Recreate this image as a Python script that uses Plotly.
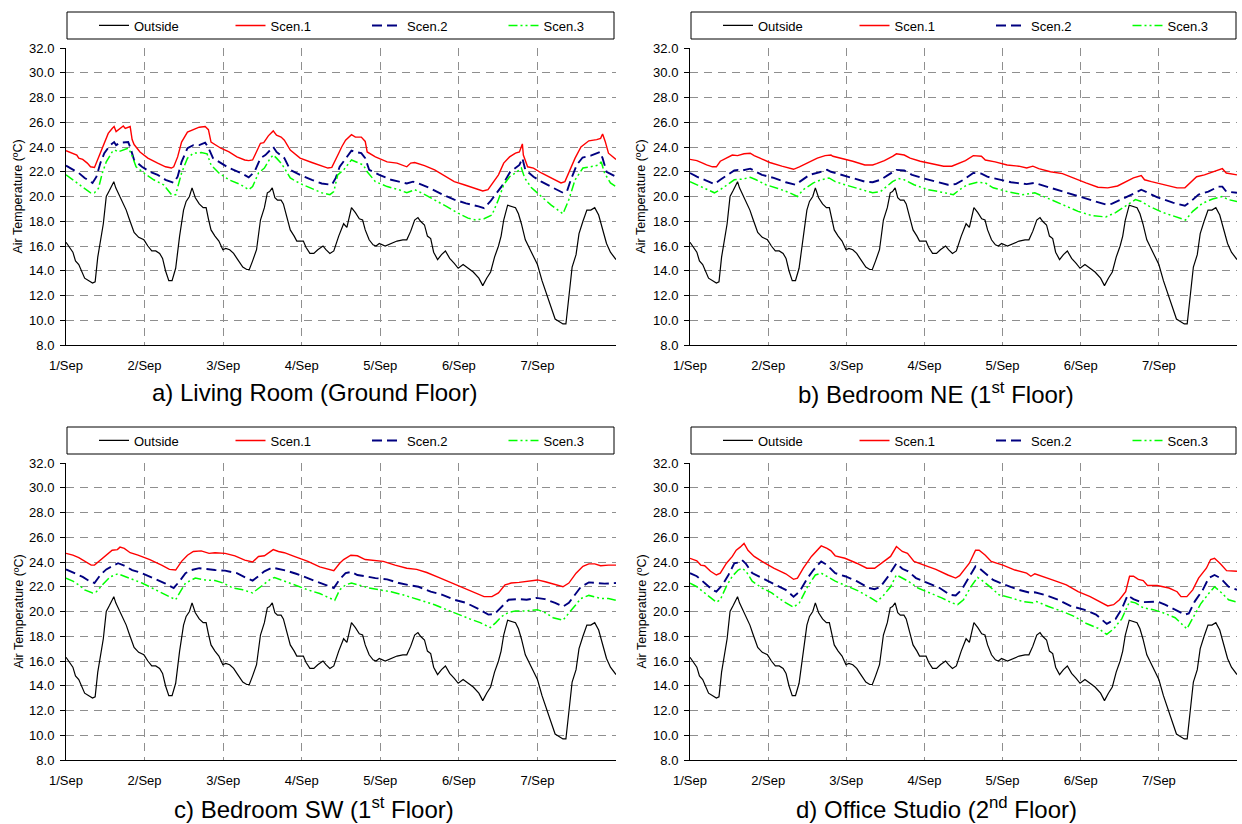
import plotly.graph_objects as go

W, H = 1242, 824
FONT = "Liberation Sans, Arial, sans-serif"

# ---------------- data (hours from 1/Sep 00:00, air temperature in degC) ----------------
DAY_TICKS = [0, 24, 48, 72, 96, 120, 144, 168]
DAY_LABELS = ["1/Sep", "2/Sep", "3/Sep", "4/Sep", "5/Sep", "6/Sep", "7/Sep", ""]
Y_TICKS = [8, 10, 12, 14, 16, 18, 20, 22, 24, 26, 28, 30, 32]
SERIES = ["Outside", "Scen.1", "Scen.2", "Scen.3"]

OUTSIDE = [
    (0, 16.3), (2.1, 15.5), (2.9, 14.8), (3.9, 14.5), (5.7, 13.4), (6.9, 13.2), (8.1, 13.0), (8.9, 13.1),
    (9.7, 15.1), (11.4, 17.8), (12.3, 20.0), (13.3, 20.5), (14.6, 21.2), (15.2, 20.7), (15.9, 20.3),
    (17.2, 19.6), (18.4, 18.9), (19.3, 18.2), (20.8, 17.1), (22.2, 16.7), (23.8, 16.5), (25.0, 16.0),
    (26.2, 15.6), (27.4, 15.6), (28.6, 15.4), (29.5, 15.0), (30.4, 14.0), (31.4, 13.2), (32.4, 13.2),
    (33.5, 14.2), (34.7, 16.8), (35.9, 18.9), (36.7, 19.6), (37.7, 20.0), (38.5, 20.7), (39.5, 19.9),
    (40.7, 19.4), (41.9, 19.1), (42.8, 19.1), (43.5, 18.2), (44.3, 17.3), (45.5, 16.8), (46.7, 16.4),
    (47.9, 15.7), (48.8, 15.8), (50.0, 15.7), (51.2, 15.4), (52.2, 15.0), (54.0, 14.3), (55.2, 14.1),
    (56.0, 14.1), (57.0, 14.8), (58.2, 15.7), (59.4, 18.1), (60.6, 19.1), (61.5, 20.3), (62.2, 20.4),
    (63.0, 20.7), (63.8, 19.9), (64.6, 19.7), (65.7, 19.7), (66.4, 19.4), (67.3, 18.4), (68.5, 17.3),
    (69.7, 16.8), (70.5, 16.4), (71.5, 16.4), (72.5, 16.4), (73.3, 15.9), (74.5, 15.4), (75.7, 15.4),
    (76.9, 15.7), (78.5, 16.0), (79.4, 15.7), (80.6, 15.4), (81.8, 15.6), (83.3, 16.8), (84.8, 17.8),
    (85.8, 17.5), (87.2, 19.1), (88.4, 18.7), (89.6, 18.2), (90.6, 18.1), (91.4, 17.3), (92.6, 16.5),
    (93.8, 16.1), (94.7, 16.0), (95.7, 16.2), (97.5, 16.0), (99.3, 16.2), (101.1, 16.4), (102.9, 16.5),
    (104.1, 16.5), (105.3, 17.2), (106.5, 18.1), (107.5, 18.3), (108.3, 18.0), (109.5, 17.7), (110.4, 16.8),
    (111.4, 16.6), (112.3, 15.5), (113.5, 14.9), (114.7, 15.3), (115.9, 15.6), (117.2, 15.0), (118.6, 14.6),
    (119.8, 14.2), (121.3, 14.5), (122.8, 14.2), (124.4, 13.9), (126.1, 13.4), (127.3, 12.8), (128.5, 13.4),
    (129.7, 13.9), (130.9, 15.1), (132.1, 16.0), (132.9, 16.8), (133.7, 18.1), (134.9, 19.3), (136.1, 19.2),
    (137.3, 19.1), (138.2, 18.6), (139.1, 17.8), (140.3, 16.5), (141.6, 15.8), (142.8, 15.1), (144.0, 14.5),
    (145.4, 13.2), (147.0, 11.9), (148.2, 11.1), (149.4, 10.1), (150.6, 9.9), (151.8, 9.7), (152.7, 9.7),
    (153.6, 11.9), (154.6, 14.3), (155.8, 15.3), (156.7, 17.0), (157.9, 18.0), (159.1, 18.9), (160.3, 18.9),
    (161.5, 19.1), (162.7, 18.5), (163.9, 17.3), (165.1, 16.2), (166.3, 15.5), (168.0, 14.9),
]

# a) Living Room (Ground Floor)
A_SCEN1 = [
    (0, 23.7), (2.1, 23.5), (3.3, 23.35), (3.9, 23.1), (5.1, 23.0), (6.5, 22.7), (7.5, 22.4), (8.7, 22.35),
    (10.5, 23.5), (11.7, 24.3), (12.9, 25.1), (14.1, 25.5), (14.7, 25.65), (15.3, 25.25), (16.5, 25.5),
    (17.5, 25.7), (18.1, 25.5), (19.0, 25.6), (19.6, 25.65), (20.2, 24.6), (20.8, 24.2), (22.6, 23.6),
    (25.0, 23.1), (28.0, 22.7), (30.4, 22.4), (32.2, 22.3), (32.9, 22.4), (34.1, 23.2), (35.3, 24.4),
    (37.1, 25.2), (38.9, 25.4), (40.7, 25.6), (42.5, 25.65), (43.5, 25.4), (44.3, 24.4), (45.5, 24.2),
    (47.3, 23.9), (49.8, 23.6), (52.2, 23.2), (54.6, 22.95), (55.8, 22.9), (57.0, 22.95), (58.2, 23.6),
    (59.4, 24.3), (60.4, 24.35), (61.8, 24.9), (63.3, 25.3), (64.3, 24.95), (65.7, 24.8), (66.7, 24.55),
    (68.5, 23.75), (71.5, 23.1), (75.1, 22.75), (77.5, 22.55), (80.0, 22.3), (81.2, 22.35), (82.4, 22.95),
    (83.3, 23.5), (84.2, 24.0), (85.4, 24.55), (87.2, 25.0), (88.4, 24.8), (90.2, 24.8), (91.4, 24.45),
    (92.0, 23.6), (94.5, 23.2), (98.1, 22.8), (101.1, 22.7), (104.1, 22.4), (105.3, 22.7), (106.5, 22.75),
    (109.5, 22.5), (112.6, 22.15), (116.2, 21.6), (118.6, 21.2), (121.6, 20.95), (124.6, 20.7),
    (127.3, 20.45), (128.9, 20.55), (130.7, 21.2), (132.1, 21.75), (133.7, 22.7), (135.5, 23.2),
    (137.3, 23.5), (138.5, 23.6), (139.4, 24.25), (139.7, 23.35), (141.0, 22.4), (142.8, 22.3),
    (145.2, 21.9), (148.2, 21.5), (151.2, 21.1), (152.4, 21.2), (153.6, 21.9), (155.5, 23.1), (157.3, 24.0),
    (159.7, 24.5), (162.1, 24.6), (163.3, 24.7), (163.9, 25.05), (164.7, 24.45), (165.7, 23.5), (168.0, 23.0),
]
A_SCEN2 = [
    (0, 22.5), (2.1, 22.15), (3.9, 21.9), (5.7, 21.5), (8.1, 21.1), (9.3, 21.6), (10.5, 22.7), (11.7, 23.5),
    (13.5, 24.15), (14.7, 24.4), (15.3, 24.15), (16.5, 24.35), (17.8, 24.4), (19.0, 24.4), (19.6, 24.0),
    (20.8, 22.95), (23.2, 22.4), (25.6, 22.0), (28.0, 21.75), (30.4, 21.35), (32.9, 21.1), (34.1, 21.6),
    (35.3, 22.8), (37.1, 23.9), (38.9, 24.15), (40.7, 24.15), (42.5, 24.35), (43.4, 24.0), (44.9, 23.1),
    (47.3, 22.7), (49.8, 22.3), (53.4, 21.9), (55.8, 21.55), (57.6, 22.0), (59.4, 23.1), (60.9, 23.35),
    (62.4, 23.75), (63.3, 24.0), (64.3, 23.6), (65.7, 23.35), (66.7, 23.1), (68.5, 22.15), (71.5, 21.75),
    (75.1, 21.35), (78.1, 21.05), (81.2, 20.95), (82.4, 21.5), (83.6, 22.4), (85.4, 23.1), (87.2, 23.7),
    (88.4, 23.6), (90.2, 23.5), (91.4, 23.1), (92.6, 22.15), (95.7, 21.75), (99.3, 21.35), (101.7, 21.2),
    (104.1, 21.05), (106.0, 21.2), (107.7, 21.05), (111.4, 20.65), (115.0, 20.15), (118.6, 19.75),
    (122.2, 19.45), (126.0, 19.2), (127.7, 19.05), (129.6, 19.6), (131.4, 20.25), (133.3, 20.9),
    (135.7, 22.0), (137.3, 22.3), (138.5, 22.55), (139.4, 23.1), (140.3, 22.15), (142.8, 21.6),
    (145.2, 21.2), (148.8, 20.7), (151.8, 20.3), (153.0, 20.4), (154.2, 21.35), (156.0, 22.55),
    (157.8, 23.15), (160.3, 23.3), (162.4, 23.5), (163.1, 23.6), (163.9, 23.1), (165.1, 22.0),
    (166.9, 21.75), (168.0, 21.6),
]
A_SCEN3 = [
    (0, 21.75), (2.1, 21.35), (3.9, 20.95), (6.3, 20.55), (7.5, 20.3), (8.7, 20.3), (9.9, 20.65),
    (11.1, 21.9), (12.3, 22.8), (14.1, 23.6), (15.0, 23.75), (15.9, 23.6), (17.4, 23.75), (19.0, 23.9),
    (19.9, 23.5), (21.4, 22.4), (23.8, 21.9), (26.8, 21.35), (29.8, 20.95), (32.2, 20.15), (33.5, 20.15),
    (35.3, 21.9), (37.1, 23.1), (38.9, 23.5), (41.3, 23.55), (43.1, 23.45), (44.3, 22.55), (46.7, 21.9),
    (49.8, 21.35), (53.4, 20.95), (55.8, 20.55), (57.0, 20.8), (58.8, 21.9), (60.6, 22.3), (62.4, 23.1),
    (63.3, 23.35), (64.3, 23.1), (65.7, 22.7), (66.7, 22.3), (68.5, 21.5), (71.5, 21.05), (75.1, 20.65),
    (78.1, 20.3), (80.6, 20.15), (81.8, 20.4), (83.0, 21.75), (84.8, 22.15), (87.2, 22.95), (89.0, 22.75),
    (90.8, 22.55), (92.0, 22.0), (94.5, 21.2), (98.1, 20.8), (101.7, 20.55), (104.1, 20.3), (106.5, 20.55),
    (108.9, 20.25), (112.6, 19.75), (116.2, 19.2), (119.8, 18.65), (122.8, 18.25), (125.2, 18.1),
    (127.7, 18.2), (130.1, 18.5), (132.1, 19.75), (133.7, 20.95), (135.5, 21.6), (137.3, 21.9),
    (139.1, 22.3), (140.1, 21.5), (142.2, 20.7), (145.2, 20.0), (148.2, 19.3), (151.8, 18.6),
    (153.6, 19.75), (155.5, 21.35), (157.9, 22.3), (160.3, 22.4), (162.7, 22.55), (163.5, 22.8),
    (164.5, 21.9), (166.3, 21.1), (168.0, 20.8),
]

# b) Bedroom NE (1st Floor)
B_SCEN1 = [
    (0, 23.0), (2.1, 22.9), (3.9, 22.7), (5.1, 22.55), (6.9, 22.4), (8.1, 22.4), (9.3, 22.85), (11.2, 23.1),
    (13.0, 23.35), (14.6, 23.3), (15.4, 23.35), (16.6, 23.45), (18.5, 23.5), (19.7, 23.3), (21.5, 23.1),
    (24.5, 22.75), (28.2, 22.45), (31.8, 22.2), (33.6, 22.4), (36.1, 22.7), (39.1, 23.1), (41.5, 23.3),
    (43.3, 23.35), (43.9, 23.25), (46.4, 23.1), (50.0, 22.85), (53.7, 22.55), (56.1, 22.55), (57.3, 22.65),
    (59.7, 22.9), (62.2, 23.25), (63.4, 23.45), (65.8, 23.35), (67.6, 23.1), (70.7, 22.85), (74.3, 22.65),
    (77.9, 22.45), (80.4, 22.45), (82.2, 22.65), (84.6, 22.9), (87.0, 23.3), (88.3, 23.25), (89.5, 23.25),
    (90.7, 22.95), (93.7, 22.8), (97.4, 22.55), (101.0, 22.45), (103.4, 22.3), (105.3, 22.45),
    (107.1, 22.25), (110.7, 22.0), (114.4, 21.85), (118.0, 21.45), (121.6, 21.1), (125.3, 20.75),
    (128.3, 20.7), (131.3, 20.85), (133.8, 21.2), (136.2, 21.5), (138.6, 21.7), (139.6, 21.35),
    (141.7, 21.2), (145.3, 20.95), (149.6, 20.7), (152.0, 20.7), (153.8, 21.15), (155.6, 21.6),
    (158.0, 21.75), (160.5, 21.95), (162.9, 22.15), (163.5, 22.25), (164.7, 21.9), (168.0, 21.75),
]
B_SCEN2 = [
    (0, 21.9), (2.1, 21.6), (4.5, 21.35), (7.5, 21.0), (9.3, 21.35), (11.2, 21.7), (13.6, 22.1),
    (14.8, 22.15), (16.0, 22.1), (18.5, 22.25), (19.7, 22.1), (22.1, 21.75), (25.7, 21.5), (29.4, 21.15),
    (32.4, 20.95), (34.2, 21.3), (36.7, 21.75), (39.7, 21.95), (42.1, 22.15), (43.3, 22.0), (46.4, 21.75),
    (50.0, 21.5), (53.7, 21.2), (56.1, 21.15), (58.5, 21.35), (60.9, 21.75), (63.4, 22.15), (65.8, 22.1),
    (68.2, 21.75), (71.9, 21.45), (75.5, 21.2), (79.2, 20.95), (81.6, 21.0), (84.0, 21.35), (87.0, 21.9),
    (89.5, 21.85), (91.3, 21.6), (95.0, 21.35), (98.6, 21.15), (103.4, 21.0), (105.9, 21.1), (109.5, 20.8),
    (114.4, 20.4), (119.2, 20.0), (124.1, 19.6), (127.7, 19.35), (129.5, 19.4), (132.5, 19.75),
    (135.6, 20.15), (138.6, 20.55), (140.4, 20.3), (143.4, 19.95), (148.3, 19.5), (152.0, 19.25),
    (153.8, 19.6), (156.2, 20.15), (159.2, 20.4), (162.3, 20.8), (163.5, 20.8), (164.7, 20.4), (168.0, 20.3),
]
B_SCEN3 = [
    (0, 21.2), (2.1, 20.95), (4.5, 20.7), (7.5, 20.3), (9.3, 20.55), (11.2, 20.9), (13.6, 21.35),
    (16.0, 21.4), (18.5, 21.55), (20.3, 21.35), (23.3, 20.95), (27.0, 20.65), (30.6, 20.3), (33.0, 20.0),
    (34.8, 20.55), (37.9, 21.1), (40.3, 21.35), (42.7, 21.5), (44.6, 21.2), (47.6, 20.95), (51.2, 20.7),
    (56.1, 20.3), (58.5, 20.4), (62.2, 21.2), (64.0, 21.45), (65.8, 21.35), (68.8, 20.95), (73.1, 20.55),
    (77.3, 20.35), (80.9, 20.15), (82.8, 20.55), (85.2, 20.95), (88.3, 21.15), (90.7, 21.1), (93.1, 20.7),
    (97.4, 20.4), (102.2, 20.15), (105.9, 20.3), (109.5, 19.9), (114.4, 19.35), (119.2, 18.8),
    (123.5, 18.45), (127.7, 18.35), (130.7, 18.7), (133.8, 19.2), (136.8, 19.75), (138.6, 19.6),
    (141.1, 19.2), (145.3, 18.7), (149.6, 18.3), (152.2, 18.1), (154.4, 18.8), (157.4, 19.45),
    (160.5, 19.8), (163.5, 20.0), (165.3, 19.75), (168.0, 19.6),
]

# c) Bedroom SW (1st Floor)
C_SCEN1 = [
    (0, 24.7), (2.1, 24.55), (3.9, 24.35), (5.7, 24.05), (7.7, 23.75), (8.7, 23.75), (10.5, 24.15),
    (12.3, 24.55), (14.1, 24.95), (15.7, 25.0), (16.5, 25.2), (17.8, 25.1), (19.6, 24.75), (22.0, 24.55),
    (25.6, 24.2), (29.2, 23.75), (31.6, 23.4), (33.5, 23.35), (35.3, 24.05), (37.1, 24.55), (38.9, 24.85),
    (41.3, 24.9), (43.7, 24.7), (45.5, 24.75), (48.6, 24.7), (51.6, 24.5), (54.6, 24.15), (57.0, 24.0),
    (58.8, 24.45), (60.6, 24.5), (63.3, 25.0), (64.9, 24.85), (66.7, 24.75), (69.7, 24.45), (73.9, 24.05),
    (77.5, 23.6), (80.6, 23.35), (81.8, 23.3), (83.6, 23.9), (84.8, 24.2), (87.0, 24.55), (89.0, 24.5),
    (91.4, 24.2), (93.8, 24.15), (96.9, 24.05), (100.5, 23.75), (104.1, 23.5), (107.1, 23.4),
    (110.2, 23.15), (113.8, 22.75), (117.4, 22.35), (121.0, 21.95), (124.7, 21.55), (127.7, 21.2),
    (130.1, 21.2), (132.1, 21.5), (134.1, 22.15), (136.0, 22.3), (138.4, 22.35), (140.4, 22.4),
    (144.0, 22.55), (146.4, 22.4), (149.4, 22.15), (151.8, 22.0), (153.6, 22.3), (155.8, 23.1),
    (157.9, 23.65), (159.7, 23.85), (161.5, 23.85), (163.3, 23.7), (165.7, 23.75), (168.0, 23.75),
]
C_SCEN2 = [
    (0, 23.4), (2.7, 23.1), (5.1, 22.8), (6.9, 22.5), (8.7, 22.3), (10.5, 22.95), (12.3, 23.4), (14.7, 23.75),
    (15.9, 23.9), (17.8, 23.7), (20.2, 23.35), (23.2, 23.1), (26.8, 22.7), (30.4, 22.25), (32.9, 21.9),
    (34.7, 22.45), (36.5, 23.1), (38.3, 23.35), (40.7, 23.5), (43.1, 23.4), (45.5, 23.35), (48.6, 23.3),
    (52.2, 23.1), (55.2, 22.7), (57.0, 22.5), (58.8, 22.85), (60.6, 23.25), (63.0, 23.55), (64.9, 23.45),
    (67.3, 23.3), (70.3, 23.05), (73.9, 22.7), (77.5, 22.3), (80.6, 22.05), (81.8, 21.9), (83.6, 22.6),
    (85.4, 23.1), (87.2, 23.2), (89.0, 22.95), (91.4, 22.85), (94.5, 22.7), (98.1, 22.6), (101.7, 22.3),
    (105.3, 22.1), (107.7, 22.0), (111.4, 21.6), (115.0, 21.35), (118.6, 20.95), (122.2, 20.7),
    (126.0, 20.2), (129.0, 19.75), (130.9, 19.8), (132.8, 20.3), (135.2, 20.95), (138.2, 21.0),
    (140.7, 20.95), (143.7, 21.1), (146.3, 21.0), (149.4, 20.7), (151.8, 20.4), (153.6, 20.7),
    (155.5, 21.35), (157.3, 22.0), (159.7, 22.35), (162.1, 22.3), (164.5, 22.25), (168.0, 22.3),
]
C_SCEN3 = [
    (0, 22.7), (2.1, 22.45), (3.9, 22.15), (5.7, 21.75), (8.1, 21.5), (9.3, 21.6), (11.1, 22.15),
    (13.5, 22.8), (15.9, 23.05), (17.8, 22.85), (20.2, 22.55), (23.2, 22.3), (27.4, 21.75), (30.4, 21.35),
    (33.5, 20.95), (34.7, 21.5), (36.5, 22.3), (39.5, 22.7), (42.5, 22.55), (45.5, 22.5), (48.0, 22.3),
    (51.0, 21.9), (54.0, 21.75), (57.0, 21.5), (58.2, 21.75), (60.0, 22.15), (62.4, 22.6), (63.7, 22.75),
    (66.7, 22.45), (69.7, 22.15), (73.9, 21.75), (77.5, 21.45), (80.6, 21.1), (82.1, 20.9), (83.6, 21.75),
    (85.4, 22.15), (87.2, 22.3), (89.6, 22.1), (92.6, 21.9), (95.7, 21.75), (99.3, 21.6), (102.9, 21.35),
    (105.9, 21.1), (109.0, 20.8), (112.6, 20.55), (116.2, 20.15), (119.8, 19.75), (123.4, 19.4),
    (126.5, 19.1), (129.6, 18.7), (131.3, 19.1), (133.1, 19.6), (135.0, 19.9), (137.3, 20.05),
    (140.3, 20.05), (144.0, 20.15), (146.4, 19.9), (148.8, 19.5), (151.8, 19.3), (153.6, 19.85),
    (155.5, 20.5), (157.3, 21.05), (159.7, 21.3), (161.5, 21.2), (163.3, 21.05), (165.7, 21.05), (168.0, 20.9),
]

# d) Office Studio (2nd Floor)
D_SCEN1 = [
    (0, 24.3), (2.1, 24.1), (3.3, 23.75), (4.5, 23.7), (6.3, 23.25), (8.1, 22.95), (9.3, 23.1), (11.2, 23.9),
    (13.0, 24.45), (14.2, 24.95), (15.4, 25.2), (16.6, 25.5), (17.8, 24.95), (19.7, 24.45), (22.1, 24.05),
    (25.7, 23.5), (29.4, 23.05), (31.8, 22.6), (33.0, 22.7), (34.8, 23.5), (37.3, 24.45), (40.3, 25.3),
    (42.1, 25.1), (43.3, 24.9), (44.6, 24.5), (47.6, 24.3), (51.2, 23.9), (54.3, 23.5), (56.7, 23.5),
    (58.5, 23.85), (59.7, 24.05), (61.6, 24.45), (63.4, 25.25), (65.2, 24.85), (66.8, 24.7), (68.8, 24.05),
    (71.9, 23.75), (75.5, 23.4), (79.2, 22.95), (81.6, 22.7), (82.8, 22.9), (84.6, 23.5), (85.8, 23.9),
    (87.7, 24.95), (88.8, 24.95), (90.7, 24.55), (92.5, 24.05), (96.1, 23.75), (99.8, 23.35), (103.4, 23.1),
    (104.7, 22.85), (105.9, 23.05), (107.7, 22.9), (111.3, 22.55), (115.6, 22.15), (119.2, 21.6),
    (122.9, 21.2), (125.9, 20.8), (128.3, 20.45), (130.1, 20.55), (131.9, 20.95), (133.8, 21.6),
    (135.0, 22.85), (136.2, 22.85), (137.7, 22.6), (139.2, 22.5), (140.5, 22.1), (143.5, 22.1),
    (147.1, 21.9), (149.6, 21.6), (150.8, 21.2), (152.6, 21.2), (154.4, 21.75), (156.2, 22.7),
    (158.6, 23.5), (159.9, 24.2), (161.1, 24.3), (162.9, 23.85), (164.8, 23.3), (168.0, 23.25),
]
D_SCEN2 = [
    (0, 23.1), (2.1, 22.85), (4.5, 22.3), (6.9, 21.75), (8.1, 21.6), (10.0, 22.15), (11.8, 22.95),
    (13.6, 23.9), (14.8, 23.95), (16.0, 24.15), (17.2, 23.85), (19.1, 23.1), (22.1, 22.7), (25.7, 22.25),
    (29.4, 21.75), (31.8, 21.2), (33.6, 21.6), (36.1, 22.7), (37.9, 23.35), (40.3, 24.05), (42.1, 23.75),
    (44.6, 23.1), (47.6, 22.85), (51.2, 22.45), (54.9, 21.9), (56.7, 21.8), (58.5, 22.0), (60.9, 22.85),
    (63.4, 23.9), (65.2, 23.45), (67.0, 23.25), (69.4, 22.7), (73.1, 22.3), (76.7, 21.9), (79.8, 21.35),
    (81.6, 21.3), (83.4, 21.75), (85.8, 22.85), (87.7, 23.65), (88.8, 23.5), (90.7, 23.1), (93.1, 22.55),
    (96.8, 22.15), (101.0, 21.75), (104.7, 21.5), (105.9, 21.55), (108.9, 21.35), (113.1, 20.95),
    (116.8, 20.45), (121.0, 20.15), (124.7, 19.75), (128.0, 19.0), (130.7, 19.4), (132.6, 20.2),
    (134.4, 21.3), (136.2, 21.0), (138.6, 20.75), (141.7, 20.8), (143.5, 20.8), (145.9, 20.55),
    (149.0, 20.15), (152.0, 19.75), (153.2, 19.85), (155.0, 20.8), (157.5, 21.75), (159.3, 22.7),
    (161.1, 22.95), (162.9, 22.7), (165.4, 22.0), (168.0, 21.75),
]
D_SCEN3 = [
    (0, 22.3), (2.1, 22.0), (4.5, 21.5), (6.9, 20.95), (8.1, 20.75), (9.3, 20.95), (11.2, 22.05),
    (13.0, 22.85), (14.8, 23.35), (16.0, 23.5), (17.2, 23.25), (19.1, 22.45), (22.1, 21.9), (25.1, 21.5),
    (28.8, 20.8), (31.8, 20.35), (33.6, 20.7), (36.1, 22.0), (38.5, 22.95), (40.3, 23.1), (42.1, 22.85),
    (44.6, 22.45), (48.2, 22.05), (51.8, 21.65), (55.5, 21.1), (57.3, 20.8), (59.1, 21.2), (61.6, 22.0),
    (63.4, 22.95), (65.2, 22.7), (67.0, 22.45), (70.0, 21.9), (73.7, 21.5), (77.3, 21.1), (80.4, 20.7),
    (82.2, 20.55), (84.0, 20.95), (86.4, 22.05), (88.3, 22.75), (89.5, 22.55), (91.9, 22.05), (94.9, 21.35),
    (98.6, 21.1), (102.2, 20.8), (105.3, 20.7), (106.5, 20.8), (110.1, 20.4), (114.4, 20.0), (118.0, 19.6),
    (121.6, 19.05), (125.3, 18.65), (128.0, 18.15), (130.1, 18.6), (132.6, 19.4), (135.0, 20.8),
    (136.8, 20.7), (139.2, 20.3), (142.3, 20.15), (145.3, 19.9), (149.0, 19.5), (152.6, 18.6),
    (154.4, 19.5), (156.8, 20.6), (159.3, 21.45), (161.1, 22.0), (162.9, 21.6), (165.4, 20.95), (168.0, 20.75),
]

PANEL_TITLES = [
    "a) Living Room (Ground Floor)",
    "b) Bedroom NE (1<sup>st</sup> Floor)",
    "c) Bedroom SW (1<sup>st</sup> Floor)",
    "d) Office Studio (2<sup>nd</sup> Floor)",
]
PANEL_SCENARIOS = [
    (A_SCEN1, A_SCEN2, A_SCEN3),
    (B_SCEN1, B_SCEN2, B_SCEN3),
    (C_SCEN1, C_SCEN2, C_SCEN3),
    (D_SCEN1, D_SCEN2, D_SCEN3),
]

# ---------------- layout geometry (pixels) ----------------
BOXES = [(66, 616, 48, 345), (690, 1237, 48, 345), (66, 616, 463, 760), (690, 1237, 463, 760)]
# legend frames: (left, right, top, bottom)
LEGEND_BOXES = [(67, 614, 12, 39), (691, 1236, 12, 39), (67, 614, 427, 454), (691, 1236, 427, 454)]
TITLE_POS = [(314, 393), (936, 393), (314, 808), (936, 808)]
YTITLE_X = [18, 641, 18, 641]

STYLES = {
    "Outside": dict(color="#000000", width=1.2, dash="solid"),
    "Scen.1": dict(color="#FF0000", width=1.4, dash="solid"),
    "Scen.2": dict(color="#000080", width=1.9, dash="10px,5px"),
    "Scen.3": dict(color="#00FF00", width=1.5, dash="9px,3px,2px,3px,2px,3px"),
}

fig = go.Figure()
legend_names = ["legend", "legend2", "legend3", "legend4"]

for i in range(4):
    sfx = "" if i == 0 else str(i + 1)
    series_data = [OUTSIDE] + list(PANEL_SCENARIOS[i])
    for name, data in zip(SERIES, series_data):
        fig.add_trace(go.Scatter(
            x=[p[0] for p in data], y=[p[1] for p in data],
            mode="lines", name=name, line=STYLES[name],
            xaxis="x" + sfx, yaxis="y" + sfx, legend=legend_names[i],
            hoverinfo="skip",
        ))

layout = dict(
    width=W, height=H, margin=dict(l=0, r=0, t=0, b=0, autoexpand=False),
    paper_bgcolor="white", plot_bgcolor="white",
    font=dict(family=FONT, size=13, color="#000000"),
    annotations=[], shapes=[],
)

GRID = dict(showgrid=True, gridcolor="#8f8f8f", gridwidth=1, griddash="8px,6px", zeroline=False,
            showline=True, linecolor="#000000", linewidth=1, fixedrange=True, automargin=False,
            tickfont=dict(family=FONT, size=13, color="#000000"))

for i, (l, r, t, b) in enumerate(BOXES):
    sfx = "" if i == 0 else str(i + 1)
    xd = [l / W, r / W]
    yd = [1 - b / H, 1 - t / H]
    layout["xaxis" + sfx] = dict(
        GRID, domain=xd, range=[0, 168], tickmode="array", tickvals=DAY_TICKS, ticktext=DAY_LABELS,
        ticks="", ticklabelstandoff=8, anchor="y" + sfx,
    )
    layout["yaxis" + sfx] = dict(
        GRID, domain=yd, range=[8, 32], tickmode="array", tickvals=Y_TICKS, tickformat=".1f",
        ticks="outside", ticklen=5, tickcolor="#000000", tickwidth=1, ticklabelstandoff=3,
        anchor="x" + sfx,
    )
    bl, br, bt, bb = LEGEND_BOXES[i]
    layout["shapes"].append(dict(
        type="rect", xref="paper", yref="paper",
        x0=bl / W, x1=br / W, y0=1 - bb / H, y1=1 - bt / H,
        line=dict(color="#000000", width=1), fillcolor="white", layer="below",
    ))
    layout[legend_names[i]] = dict(
        x=bl / W, y=1 - (bt + bb) / 2 / H, xanchor="left", yanchor="middle", orientation="h",
        bgcolor="rgba(0,0,0,0)", borderwidth=0,
        font=dict(family=FONT, size=13, color="#000000"),
        entrywidth=64.5, entrywidthmode="pixels", indentation=27, itemwidth=30,
        itemclick=False, itemdoubleclick=False, traceorder="normal",
    )
    tx, ty = TITLE_POS[i]
    layout["annotations"].append(dict(
        text=PANEL_TITLES[i], x=tx / W, y=1 - ty / H, xref="paper", yref="paper",
        xanchor="center", yanchor="middle", showarrow=False,
        font=dict(family=FONT, size=24, color="#000000"),
    ))
    layout["annotations"].append(dict(
        text="Air Temperature (ºC)", x=YTITLE_X[i] / W, y=1 - (t + b) / 2 / H,
        xref="paper", yref="paper", xanchor="center", yanchor="middle", showarrow=False,
        textangle=-90, font=dict(family=FONT, size=12.5, color="#000000"),
    ))

fig.update_layout(**layout)
fig.write_html("out.html", config={"displayModeBar": False, "staticPlot": True})
